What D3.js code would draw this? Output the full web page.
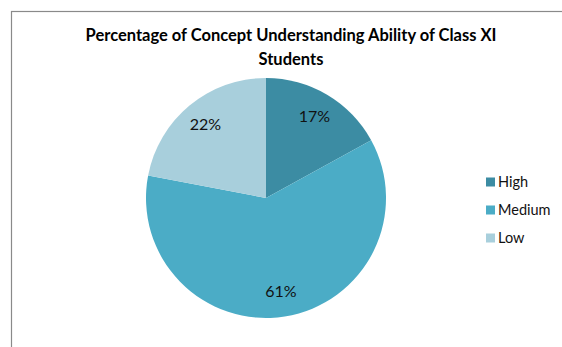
<!DOCTYPE html>
<html>
<head>
<meta charset="utf-8">
<script src="https://cdn.jsdelivr.net/npm/d3@7"></script>
<style>
  body { margin: 0; background: #fff; }
  svg { display: block; font-family: Lato, "Open Sans", sans-serif; }
</style>
</head>
<body>
<svg id="chart" width="562" height="347"></svg>
<script>
  // data
  const categories = ["High", "Medium", "Low"];
  const percents = [17, 61, 22];
  const colors = ["#3C8CA3", "#4BACC6", "#A8CFDC"];
  const titleLines = ["Percentage of Concept Understanding Ability of Class XI", "Students"];

  const svg = d3.select("#chart");

  // chart area border (runs off the right and bottom edge)
  svg.append("rect")
     .attr("x", 11.5).attr("y", 11.5)
     .attr("width", 600).attr("height", 400)
     .attr("fill", "none")
     .attr("stroke", "#8a8a8a")
     .attr("stroke-width", 1.2);

  // title
  svg.append("text")
     .attr("text-anchor", "middle")
     .attr("font-weight", "bold")
     .attr("font-size", 16.5)
     .attr("fill", "#000")
     .selectAll("tspan")
     .data(titleLines)
     .enter()
     .append("tspan")
     .attr("x", 291)
     .attr("y", (d, i) => 41 + i * 24)
     .text(d => d);

  const cx = 266, cy = 198, radius = 120;
  const color = d3.scaleOrdinal().domain(categories).range(colors);

  const pie = d3.pie().sort(null).value(d => d.value);
  const arcs = pie(categories.map((c, i) => ({ name: c, value: percents[i] })));
  const arc = d3.arc().innerRadius(0).outerRadius(radius);
  const labelArc = d3.arc().innerRadius(95).outerRadius(95);

  const g = svg.append("g").attr("transform", `translate(${cx},${cy})`);

  g.selectAll("path")
   .data(arcs)
   .enter()
   .append("path")
   .attr("d", arc)
   .attr("fill", d => color(d.data.name));

  g.selectAll(".label")
   .data(arcs)
   .enter()
   .append("text")
   .attr("class", "label")
   .attr("transform", d => `translate(${labelArc.centroid(d)})`)
   .attr("text-anchor", "middle")
   .attr("dy", "0.35em")
   .attr("font-size", 16)
   .attr("fill", "#111")
   .text(d => d.data.value + "%");

  // legend
  const legend = svg.append("g")
                    .selectAll("g")
                    .data(categories)
                    .enter()
                    .append("g")
                    .attr("transform", (d, i) => `translate(486, ${182 + i * 28})`);

  legend.append("rect")
        .attr("x", 0).attr("y", -4.5)
        .attr("width", 9).attr("height", 9)
        .attr("fill", d => color(d));

  legend.append("text")
        .attr("x", 12)
        .attr("dy", "0.36em")
        .attr("font-size", 14.5)
        .attr("fill", "#111")
        .text(d => d);
</script>
</body>
</html>
